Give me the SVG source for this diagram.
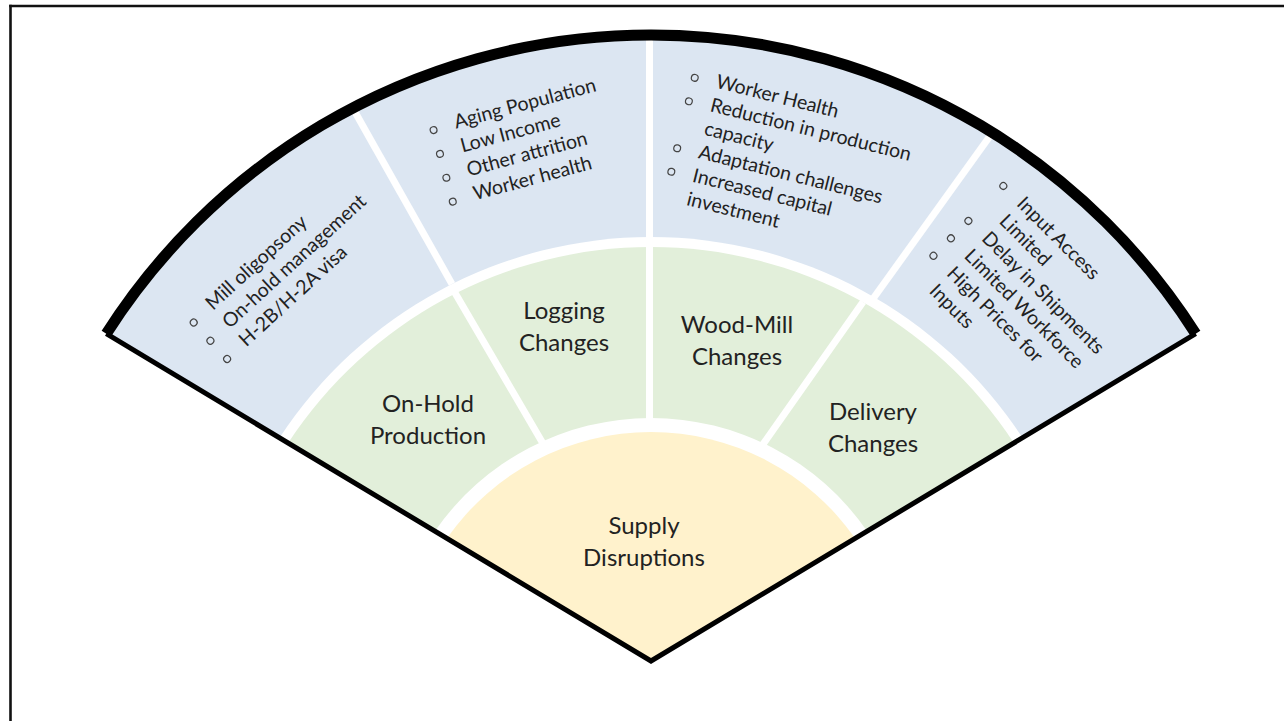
<svg xmlns="http://www.w3.org/2000/svg" width="1284" height="721" viewBox="0 0 1284 721">
  <style>
    .blue { fill: #DCE6F2; }
    .green { fill: #E2EFDA; }
    .yellow { fill: #FFF2CC; }
    .gap { fill: #FFFFFF; }
    .div { stroke: #FFFFFF; stroke-width: 7; fill: none; }
    .lbl { font-family: Lato, "Liberation Sans", sans-serif; font-size: 24px; fill: #222222; text-anchor: middle; }
    .item { font-family: Lato, "Liberation Sans", sans-serif; font-size: 19.5px; fill: #222222; }
    .bul { fill: none; stroke: #444444; stroke-width: 1.2; }
  </style>
  <rect x="0" y="0" width="1284" height="721" fill="#FFFFFF"/>
  <g id="frame" stroke="#111111" stroke-width="2.6" fill="none">
    <line x1="9.2" y1="6" x2="1284" y2="6"/>
    <line x1="10.5" y1="4.7" x2="10.5" y2="721"/>
  </g>

  <g id="ring-outer">
    <path class="blue" d="M651 661 L106.29 333.71 A646 646 0 0 1 1195.71 333.71 Z"/>
    <path class="gap" d="M651 661 L279.53 437.80 A444 444 0 0 1 1022.47 437.80 Z"/>
  </g>
  <g id="ring-middle">
    <path class="green" d="M651 661 L288.11 442.95 A434 434 0 0 1 1013.89 442.95 Z"/>
    <path class="gap" d="M651 661 L434.87 531.14 A263 263 0 0 1 867.13 531.14 Z"/>
  </g>
  <g id="node-supply">
    <path class="yellow" d="M651 661 L446.90 538.36 A249 249 0 0 1 855.10 538.36 Z"/>
    <text class="lbl" x="644" y="534">Supply</text>
    <text class="lbl" x="644" y="566">Disruptions</text>
  </g>

  <g id="connectors">
    <line class="div" x1="649.5" y1="28" x2="649.5" y2="421"/>
    <line class="div" x1="350.5" y1="104" x2="452" y2="284"/>
    <line class="div" x1="451" y1="286" x2="545" y2="447"/>
    <line class="div" x1="995" y1="129" x2="870" y2="303"/>
    <line class="div" x1="863" y1="302" x2="759" y2="450"/>
  </g>

  <g id="outline" stroke="#000000" fill="none">
    <path d="M106.29 333.71 L651 661 L1195.71 333.71" stroke-width="5" stroke-linejoin="miter"/>
    <path d="M106.29 333.71 A646 646 0 0 1 1195.71 333.71" stroke-width="11"/>
  </g>

  <g id="node-onhold">
    <text class="lbl" x="428" y="412">On-Hold</text>
    <text class="lbl" x="428" y="444">Production</text>
  </g>
  <g id="node-logging">
    <text class="lbl" x="564" y="319">Logging</text>
    <text class="lbl" x="564" y="351">Changes</text>
  </g>
  <g id="node-woodmill">
    <text class="lbl" x="737" y="333">Wood-Mill</text>
    <text class="lbl" x="737" y="365">Changes</text>
  </g>
  <g id="node-delivery">
    <text class="lbl" x="873" y="420">Delivery</text>
    <text class="lbl" x="873" y="452">Changes</text>
  </g>

  <g id="node-onhold-factors" transform="translate(213 311) rotate(-42.5)">
    <circle class="bul" cx="-22" cy="-4.5" r="3.4"/>
    <circle class="bul" cx="-22" cy="20.2" r="3.4"/>
    <circle class="bul" cx="-22" cy="44.9" r="3.4"/>
    <text class="item" x="0" y="0">Mill oligopsony</text>
    <text class="item" x="0" y="24.7">On-hold management</text>
    <text class="item" x="0" y="49.4">H-2B/H-2A visa</text>
  </g>
  <g id="node-logging-factors" transform="translate(456 128.7) rotate(-15)">
    <circle class="bul" cx="-22" cy="-4.5" r="3.4"/>
    <circle class="bul" cx="-22" cy="20.2" r="3.4"/>
    <circle class="bul" cx="-22" cy="44.9" r="3.4"/>
    <circle class="bul" cx="-22" cy="69.6" r="3.4"/>
    <text class="item" x="0" y="0">Aging Population</text>
    <text class="item" x="0" y="24.7">Low Income</text>
    <text class="item" x="0" y="49.4">Other attrition</text>
    <text class="item" x="0" y="74.1">Worker health</text>
  </g>
  <g id="node-woodmill-factors" transform="translate(715 87.5) rotate(14)">
    <circle class="bul" cx="-22" cy="-4.5" r="3.4"/>
    <circle class="bul" cx="-22" cy="19.7" r="3.4"/>
    <circle class="bul" cx="-22" cy="68.1" r="3.4"/>
    <circle class="bul" cx="-22" cy="92.3" r="3.4"/>
    <text class="item" x="0" y="0">Worker Health</text>
    <text class="item" x="0" y="24.2">Reduction in production</text>
    <text class="item" x="0" y="48.4">capacity</text>
    <text class="item" x="0" y="72.6">Adaptation challenges</text>
    <text class="item" x="0" y="96.8">Increased capital</text>
    <text class="item" x="0" y="121">investment</text>
  </g>
  <g id="node-delivery-factors" transform="translate(1015.7 204.7) rotate(45)">
    <circle class="bul" cx="-22" cy="-4.5" r="3.4"/>
    <circle class="bul" cx="-22" cy="44.9" r="3.4"/>
    <circle class="bul" cx="-22" cy="69.6" r="3.4"/>
    <circle class="bul" cx="-22" cy="94.3" r="3.4"/>
    <text class="item" x="0" y="0">Input Access</text>
    <text class="item" x="0" y="24.7">Limited</text>
    <text class="item" x="0" y="49.4">Delay in Shipments</text>
    <text class="item" x="0" y="74.1">Limited Workforce</text>
    <text class="item" x="0" y="98.8">High Prices for</text>
    <text class="item" x="0" y="123.5">Inputs</text>
  </g>
</svg>
